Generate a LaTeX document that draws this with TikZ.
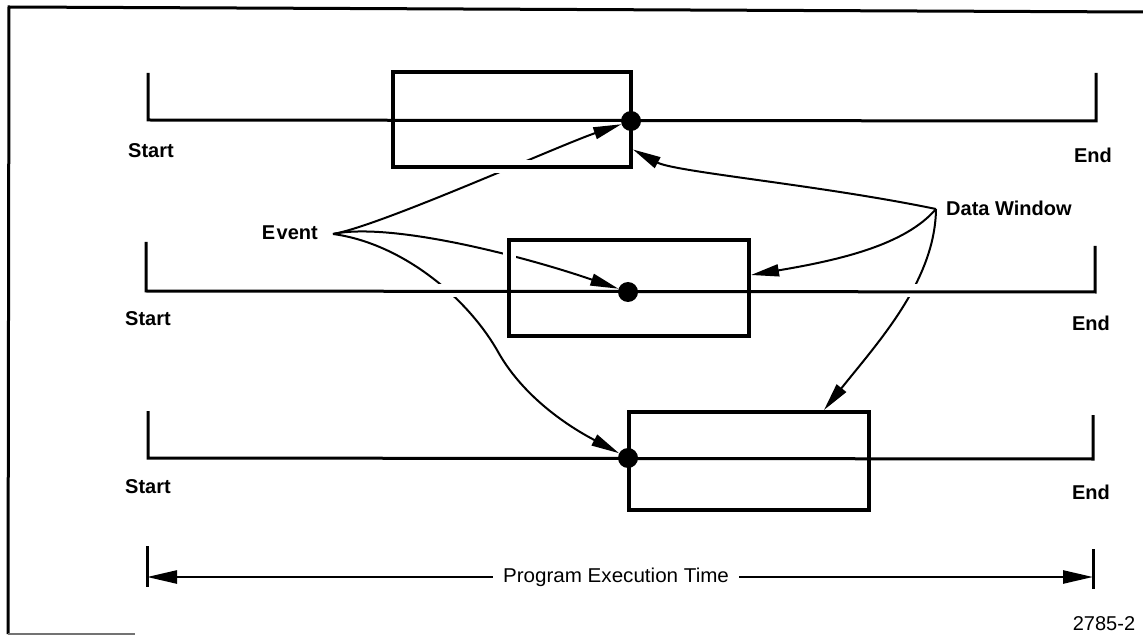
\documentclass[tikz,border=0pt]{standalone}
\usepackage{fontspec}
\setmainfont{Liberation Sans}
\usepackage{graphicx}
\usetikzlibrary{arrows.meta,calc}
\pgfdeclarelayer{bg}
\pgfsetlayers{bg,main}

\begin{document}
\begin{tikzpicture}[x=1pt,y=-1pt,
  lab/.style={font=\fontsize{20}{22}\selectfont\bfseries, inner sep=0pt},
  plain/.style={font=\fontsize{20}{22}\selectfont, inner sep=0pt},
  track/.style={line width=3pt},
  win/.style={draw, line width=4pt, inner sep=0pt, minimum width=238pt, minimum height=95pt},
  dot/.style={circle, fill, inner sep=0pt, minimum size=20pt},
  ptr/.style={line width=2pt, -{Triangle[length=28pt,width=12pt]}},
  span/.style={line width=2.5pt, -{Triangle[length=30pt,width=13pt]}},
  cut/.style={white, line width=13pt}
]
\useasboundingbox (0,0) rectangle (1143,636);

% frame
\draw[line width=3pt] (1143,12) -- (9,7) -- (8,634);
\draw[line width=2pt, black!55] (8,634) -- (135,634);

% three timelines
\coordinate (s1) at (148,120);  \coordinate (e1) at (1096,121);
\coordinate (s2) at (146,291);  \coordinate (e2) at (1095,292);
\coordinate (s3) at (148,458);  \coordinate (e3) at (1093,459);
\draw[track] (148,73) -- (s1) -- (e1) -- (1096,73);
\draw[track] (146,242) -- (s2) -- (e2) -- (1095,246);
\draw[track] (148,411) -- (s3) -- (e3) -- (1093,415);

\node[lab] (st1) at (151,151) {Start};
\node[lab] (st2) at (148,319) {Start};
\node[lab] (st3) at (148,487) {Start};
\node[lab] (en1) at (1093,155) {End};
\node[lab] (en2) at (1091,323) {End};
\node[lab] (en3) at (1091,492) {End};

% data windows
\node[win] (box1) at (512,119.5) {};
\node[win, minimum width=240pt, minimum height=96pt] (box2) at (629,288) {};
\node[win, minimum width=240pt, minimum height=98pt] (box3) at (749,461) {};

% event points
\node[dot] (d1) at (631,121) {};
\node[dot] (d2) at (628,292) {};
\node[dot] (d3) at (628,458) {};

% labels with their pointers
\node[lab, anchor=east] (ev) at (318,233) {E\kern1.5pt vent};
\coordinate (evp) at (333,234);
\node[lab, anchor=west] (dw) at (946,208) {Data Window};
\coordinate (dwp) at (936,209);

\coordinate (t1) at ($(box1.east)+(0,30)$);
\coordinate (t2) at ($(box2.east)+(0,-13)$);
\coordinate (t3) at ($(box3.north)+(75,0)$);

\begin{pgfonlayer}{bg}
  \draw[ptr] (evp) .. controls (380,226) and (560,145) .. (d1);
  \draw[ptr] (evp) .. controls (390,222) and (520,255) .. (d2);
  \draw[ptr] (evp) .. controls (400,243) and (465,295) .. (497,350)
                   .. controls (527,405) and (585,435) .. (d3);
  \draw[ptr] (dwp) .. controls (820,185) and (675,172) .. (t1);
  \draw[ptr] (dwp) .. controls (905,245) and (840,260) .. (t2);
  \draw[ptr] (dwp) .. controls (935,280) and (880,340) .. (t3);
  % breaks where pointers pass under lines
  \draw[cut] (490,167) -- (535,167);
  \draw[cut] (509,244) -- (509,272);
  \draw[cut] (425,291) -- (460,291);
  \draw[cut] (900,291) -- (932,291);
\end{pgfonlayer}

% overall execution span
\coordinate (bl) at (147,577);
\coordinate (br) at (1093,577);
\draw[track] (147,546) -- (147,587);
\draw[track] (1093,549) -- (1093,589);
\node[plain, inner xsep=10pt] (pet) at (616,577) {\scalebox{1.03}[1]{Program Execution Time}};
\draw[span] (pet.west) -- (bl);
\draw[span] (pet.east) -- (br);

\node[plain] (fig) at (1104,624) {2785-2};
\end{tikzpicture}
\end{document}
